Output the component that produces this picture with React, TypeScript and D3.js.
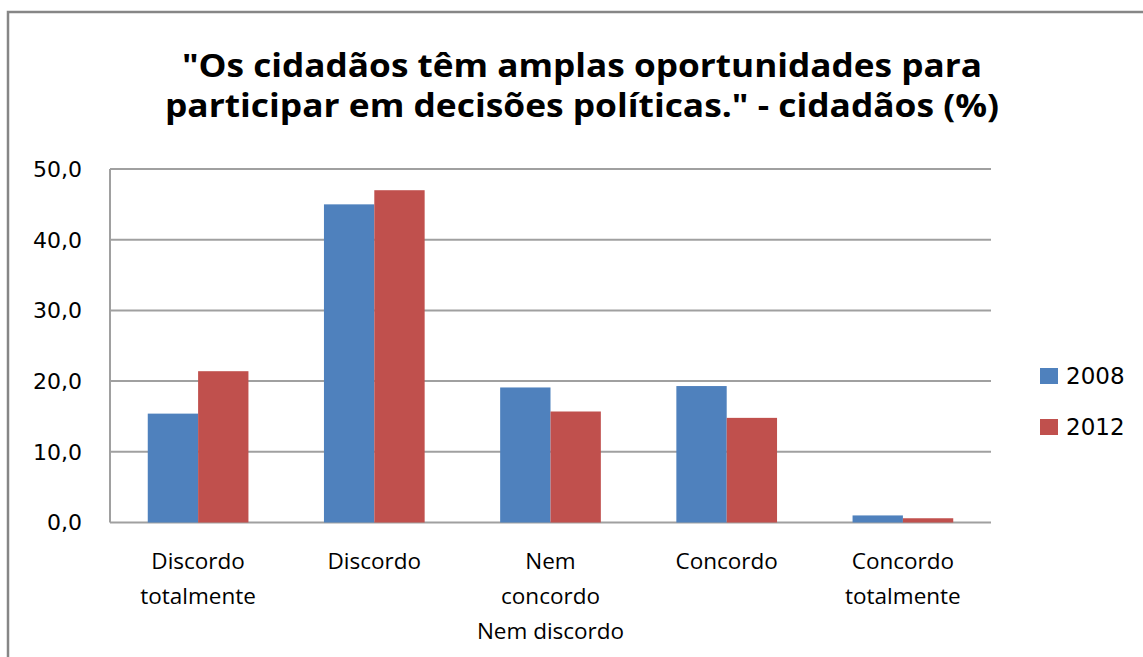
import React from "react";
import * as d3 from "d3";

const categories = [
  ["Discordo", "totalmente"],
  ["Discordo"],
  ["Nem", "concordo", "Nem discordo"],
  ["Concordo"],
  ["Concordo", "totalmente"],
];
const categoryKeys = ["Discordo totalmente", "Discordo", "Nem concordo Nem discordo", "Concordo", "Concordo totalmente"];
const seriesNames = ["2008", "2012"];
const values2008 = [15.4, 45.0, 19.1, 19.3, 1.0];
const values2012 = [21.4, 47.0, 15.7, 14.8, 0.6];
const yTicks = [0, 10, 20, 30, 40, 50];
const titleLines = [
  "\"Os cidadãos têm amplas oportunidades para",
  "participar em decisões políticas.\" - cidadãos (%)",
];
const colors = ["#4F81BD", "#C0504D"];

export default function App() {
  const W = 1143, H = 657;
  const left = 110, right = 991, top = 169, bottom = 522.5;
  const x = d3.scaleBand<string>().domain(categoryKeys).range([left, right]).padding(0);
  const y = d3.scaleLinear().domain([0, 50]).range([bottom, top]);
  const bw = x.bandwidth();
  const barW = bw / 3.5;
  const inner = d3.scaleBand<string>().domain(seriesNames).range([barW * 0.75, barW * 2.75]).padding(0);
  const series = [values2008, values2012];
  const fmt = (v: number) => d3.format(".1f")(v).replace(".", ",");
  const font = "'Open Sans', sans-serif";
  const numFont = "'DejaVu Sans', sans-serif";

  return (
    <svg width={W} height={H} style={{ position: "absolute", left: 0, top: 0, background: "#fff" }}>
      <rect x={0} y={0} width={W} height={H} fill="#fff" />
      <rect x={8} y={12} width={W + 20} height={H + 20} fill="none" stroke="#868686" strokeWidth={2.5} />
      {titleLines.map((t, i) => (
        <text key={i} x={582} y={77 + i * 40} textAnchor="middle" fontFamily={font} fontWeight="bold" fontSize={32} fill="#000"
          textLength={i === 0 ? 800 : 834} lengthAdjust="spacingAndGlyphs">
          {t}
        </text>
      ))}
      {yTicks.map((t) => (
        <g key={t}>
          <line x1={left} x2={right} y1={y(t)} y2={y(t)} stroke="#A0A0A0" strokeWidth={2} />
          <text x={82} y={y(t)} dy="0.36em" textAnchor="end" fontFamily={numFont} fontSize={22} fill="#000">{fmt(t)}</text>
        </g>
      ))}
      <line x1={left} x2={left} y1={top} y2={bottom} stroke="#A0A0A0" strokeWidth={2} />
      {categoryKeys.map((c, ci) => (
        <g key={c}>
          {series.map((vals, si) => (
            <rect key={si}
              x={(x(c) as number) + (inner(seriesNames[si]) as number)}
              y={y(vals[ci])}
              width={inner.bandwidth()}
              height={bottom - y(vals[ci])}
              fill={colors[si]} />
          ))}
          {categories[ci].map((line, li) => (
            <text key={li} x={(x(c) as number) + bw / 2} y={569 + li * 35} textAnchor="middle" fontFamily={font} fontSize={22.5} fill="#000">{line}</text>
          ))}
        </g>
      ))}
      {seriesNames.map((s, i) => (
        <g key={s}>
          <rect x={1040} y={368 + i * 51} width={18} height={16} fill={colors[i]} />
          <text x={1066} y={376 + i * 51} dy="0.36em" fontFamily={numFont} fontSize={23} fill="#000">{s}</text>
        </g>
      ))}
    </svg>
  );
}
